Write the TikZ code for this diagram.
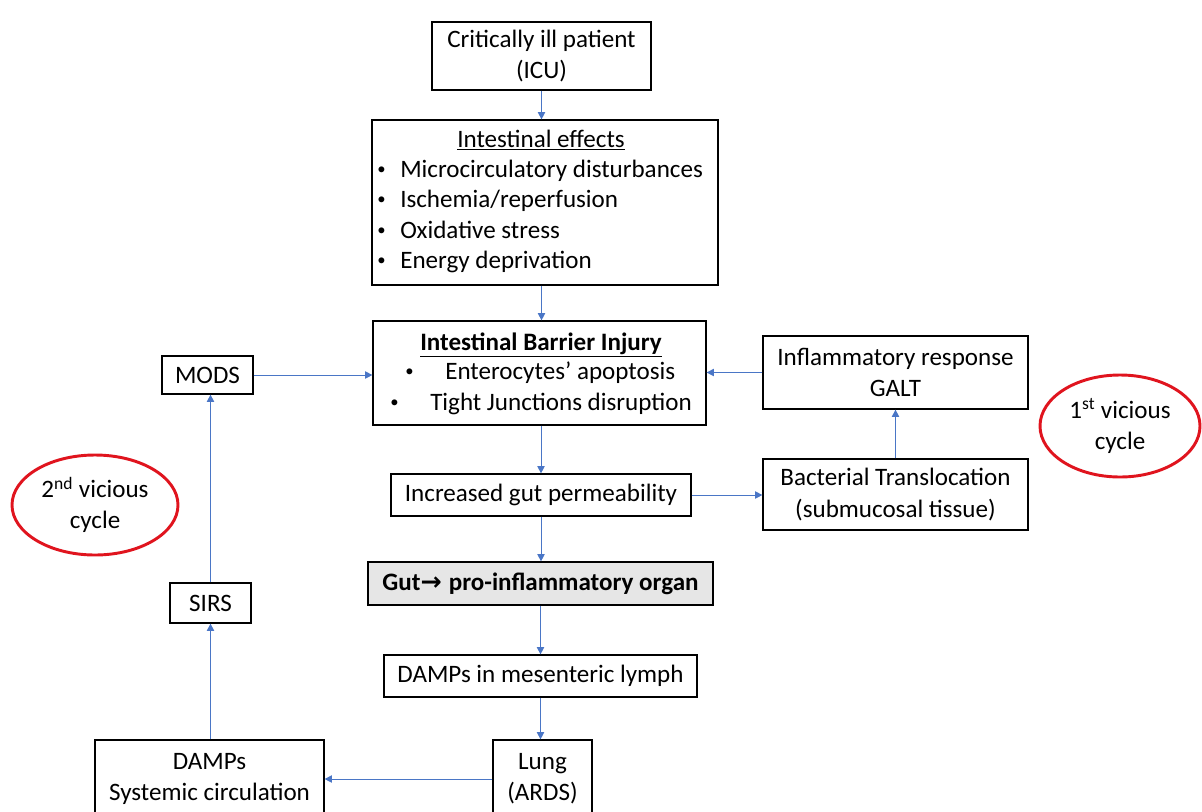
\documentclass[tikz,border=0pt]{standalone}
\usepackage{fontspec}
\setmainfont{Carlito}
\newfontfamily\arrowfont{DejaVu Sans}
\usetikzlibrary{arrows.meta,shapes.geometric}
\newcommand\bodyfnt{\fontsize{18.8}{23.3}\selectfont}
\newcommand\smbul{\raisebox{1.8pt}{\fontsize{12.5}{12.5}\selectfont •}}
\definecolor{arrblue}{HTML}{4A76C6}
\definecolor{cyclered}{HTML}{E0141E}
\definecolor{gutgrey}{HTML}{E6E6E6}
\begin{document}
\begin{tikzpicture}[x=0.75pt,y=-0.75pt,
  box/.style={draw=black, line width=0.9pt, inner sep=0pt, align=center, font=\bodyfnt},
  txt/.style={inner sep=0pt, font=\bodyfnt, text height=13pt, text depth=4pt},
  arr/.style={draw=arrblue, line width=0.7pt, -{Triangle[length=5.5pt,width=5.5pt]}},
  cyc/.style={draw=cyclered, line width=2.2pt, ellipse, inner sep=0pt, align=center, font=\bodyfnt}]
\fill[white] (0,0) rectangle (1202,811);
\clip (0,0) rectangle (1202,811);

% boxes
\node[box, minimum width=164.25pt, minimum height=51pt] (icu) at (541.5,56) {Critically ill patient\\(ICU)};
\node[box, minimum width=259.5pt, minimum height=123.75pt] (eff) at (545,202.5) {};
\node[txt] (efft) at (541,141) {\underline{Intestinal effects}};
\node[txt, anchor=west] (eff1) at (377,171) {\makebox[17.25pt][l]{\smbul}Microcirculatory disturbances};
\node[txt, anchor=west] (eff2) at (377,201) {\makebox[17.25pt][l]{\smbul}Ischemia/reperfusion};
\node[txt, anchor=west] (eff3) at (377,232) {\makebox[17.25pt][l]{\smbul}Oxidative stress};
\node[txt, anchor=west] (eff4) at (377,262) {\makebox[17.25pt][l]{\smbul}Energy deprivation};

\node[box, minimum width=249.75pt, minimum height=78pt] (bar) at (539.5,373) {};
\node[txt] (bart) at (541,344) {\bfseries\underline{Intestinal Barrier Injury}};
\node[txt, anchor=west] (bar1) at (405,373) {\makebox[30pt][l]{\smbul}Enterocytes’ apoptosis};
\node[txt, anchor=west] (bar2) at (390,404) {\makebox[30pt][l]{\smbul}Tight Junctions disruption};

\node[box, minimum width=68.25pt, minimum height=28.5pt] (mods) at (207.5,375) {MODS};
\node[box, minimum width=198.75pt, minimum height=54.75pt] (infl) at (895.5,372.5) {Inflammatory response\\GALT};
\node[box, minimum width=225pt, minimum height=31.5pt] (incr) at (541,495) {Increased gut permeability};
\node[box, minimum width=198.75pt, minimum height=53.25pt] (bact) at (895.5,494.5) {Bacterial Translocation\\(submucosal tissue)};
\node[box, fill=gutgrey, minimum width=258.75pt, minimum height=32.25pt] (gut) at (540.5,583.5) {\bfseries Gut{\arrowfont\bfseries\fontsize{19}{20}\selectfont →}\hspace{1pt} pro-inflammatory organ};
\node[box, minimum width=60.75pt, minimum height=30pt] (sirs) at (210.5,603) {SIRS};
\node[box, minimum width=234.75pt, minimum height=31.5pt] (mes) at (540.5,676) {DAMPs in mesenteric lymph};
\node[box, minimum width=74.25pt, minimum height=58.5pt] (lung) at (542.5,779) {Lung\\(ARDS)};
\node[box, minimum width=171.75pt, minimum height=58.5pt] (sys) at (209.5,779) {DAMPs\\Systemic circulation};

% vicious cycles
\node[cyc, minimum width=120pt, minimum height=76.5pt] (c1) at (1120,426) {1\textsuperscript{st} vicious\\cycle};
\node[cyc, minimum width=124.5pt, minimum height=75pt] (c2) at (95,505) {2\textsuperscript{nd} vicious\\cycle};

% connectors
\draw[arr] (icu.south) -- (icu.south |- eff.north);
\draw[arr] (icu.south |- eff.south) -- (icu.south |- bar.north);
\draw[arr] (mods.east) -- (mods.east -| bar.west);
\draw[arr] (infl.west) -- (infl.west -| bar.east);
\draw[arr] (incr.north |- bar.south) -- (incr.north);
\draw[arr] (incr.east) -- (incr.east -| bact.west);
\draw[arr] (bact.north) -- (infl.south);
\draw[arr] (incr.south) -- (incr.south |- gut.north);
\draw[arr] (gut.south) -- (gut.south |- mes.north);
\draw[arr] (mes.south) -- (mes.south |- lung.north);
\draw[arr] (lung.west) -- (lung.west -| sys.east);
\draw[arr] (sirs.south |- sys.north) -- (sirs.south);
\draw[arr] (sirs.north) -- (sirs.north |- mods.south);
\end{tikzpicture}
\end{document}
